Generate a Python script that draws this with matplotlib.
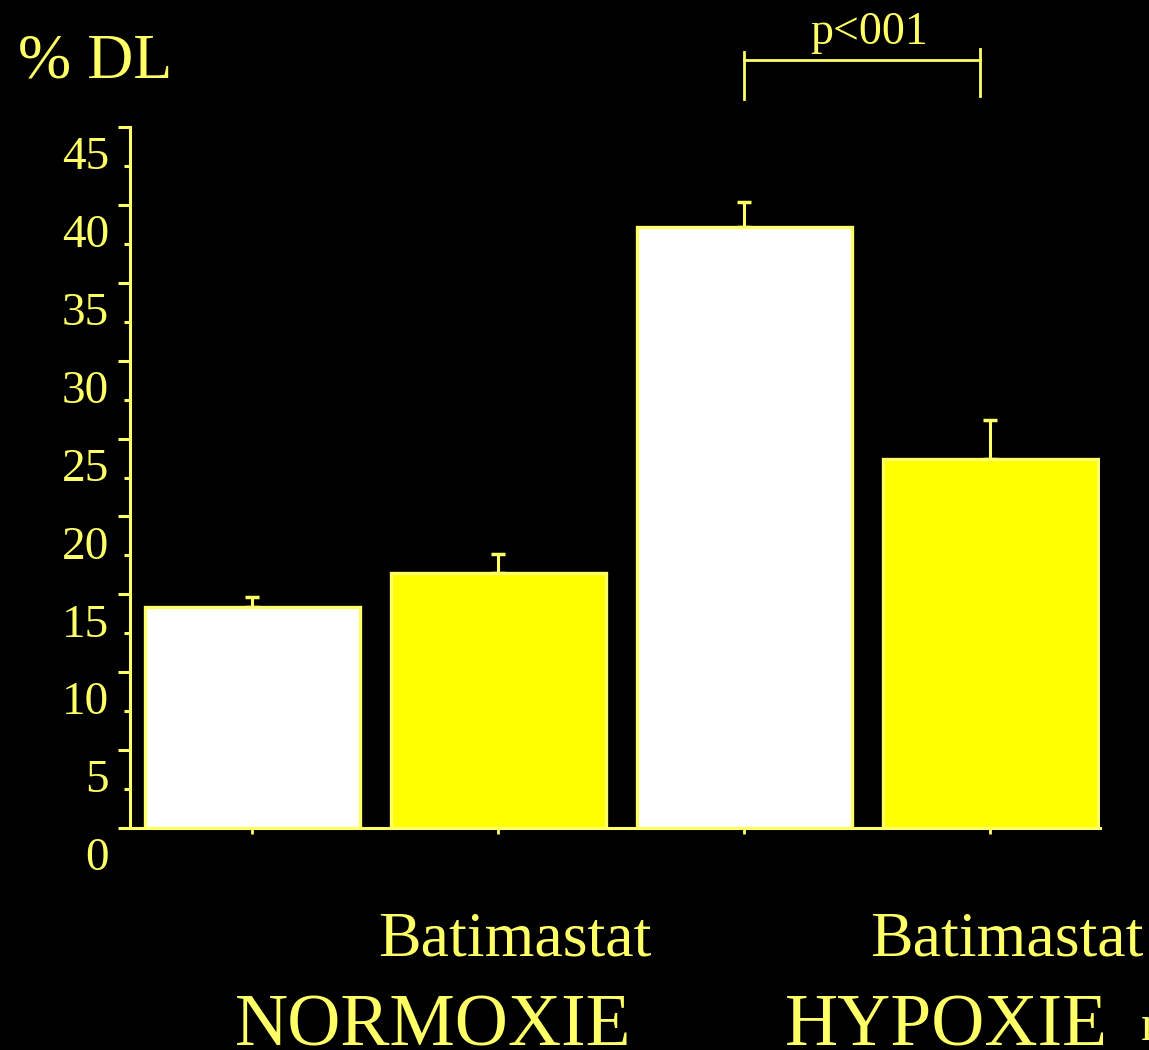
import matplotlib
matplotlib.use("Agg")
import matplotlib.pyplot as plt
from matplotlib.transforms import ScaledTranslation

# ---- data ----
groupes = ["NORMOXIE", "HYPOXIE"]
traitements = ["", "Batimastat", "", "Batimastat"]
valeurs = [14.2, 16.4, 38.6, 23.7]
erreurs = [0.6, 1.2, 1.6, 2.5]
couleurs = ["#ffffff", "#ffff00", "#ffffff", "#ffff00"]
yticks = [0, 5, 10, 15, 20, 25, 30, 35, 40, 45]
p_texte = "p<001"

JAUNE = "#ffff66"
W, H = 1149, 1050
plt.rcParams['font.family'] = ['Liberation Serif', 'DejaVu Serif']

fig = plt.figure(figsize=(W / 100, H / 100), dpi=100, facecolor="black")
ax = fig.add_axes([130 / W, (H - 828) / H, 970 / W, 701 / H])
ax.set_facecolor("black")

x = list(range(len(valeurs)))
ax.bar(x, valeurs, width=0.874, color=couleurs, edgecolor=JAUNE, linewidth=2.4, zorder=2)
ax.errorbar(x, valeurs, yerr=[[0] * len(erreurs), erreurs], fmt="none",
            ecolor=JAUNE, elinewidth=2.2, capsize=5, capthick=2.5, zorder=1)

ax.set_xlim(-0.496, 3.447)
ax.set_ylim(0, 45)

for s in ["top", "right"]:
    ax.spines[s].set_visible(False)
for s in ["left", "bottom"]:
    ax.spines[s].set_color(JAUNE)
    ax.spines[s].set_linewidth(2.2)

ax.set_yticks(yticks)
ax.set_yticks([v + 2.5 for v in yticks[:-1]], minor=True)
ax.set_yticklabels([str(v) for v in yticks])
ax.tick_params(axis="y", which="major", length=9, width=2.2, color=JAUNE,
               labelcolor=JAUNE, labelsize=34, pad=6)
ax.tick_params(axis="y", which="minor", length=4, width=2.2, color=JAUNE)
# labels sit a bit below their ticks on the original slide
for lab in ax.get_yticklabels():
    lab.set_transform(lab.get_transform() + ScaledTranslation(0, -0.26, fig.dpi_scale_trans))

ax.set_xticks(x)
ax.set_xticklabels([])
ax.tick_params(axis="x", length=4, width=2, color=JAUNE, direction="out")

# significance bracket between the two hypoxie bars
y_haut, y_bas = 49.3, 46.8
ax.plot([x[2], x[2]], [y_bas, y_haut + 0.5], color=JAUNE, lw=2, clip_on=False)
ax.plot([x[3] - 0.04, x[3] - 0.04], [y_bas + 0.2, y_haut + 0.7], color=JAUNE, lw=2, clip_on=False)
ax.plot([x[2], x[3] - 0.04], [y_haut, y_haut], color=JAUNE, lw=2, clip_on=False)
ax.text((x[2] + x[3]) / 2 + 0.01, 50.3, p_texte, color=JAUNE, fontsize=33,
        ha="center", va="baseline", clip_on=False)

# texts in figure pixels
def fig_txt(px, py, s, size, ha="left"):
    fig.text(px / W, 1 - py / H, s, color=JAUNE, fontsize=size, ha=ha, va="baseline")

fig_txt(18, 77, "% DL", 46)
for i, t in enumerate(traitements):
    if t:
        cx = 130 + (x[i] + 0.496) * 970 / 3.943
        fig_txt(cx + 17, 955, t, 46, ha="center")
fig_txt(235, 1046, groupes[0], 53)
fig_txt(785, 1046, groupes[1], 53)
fig_txt(1141, 1040, "n", 36)

fig.savefig("out.png", dpi=100, facecolor="black")
